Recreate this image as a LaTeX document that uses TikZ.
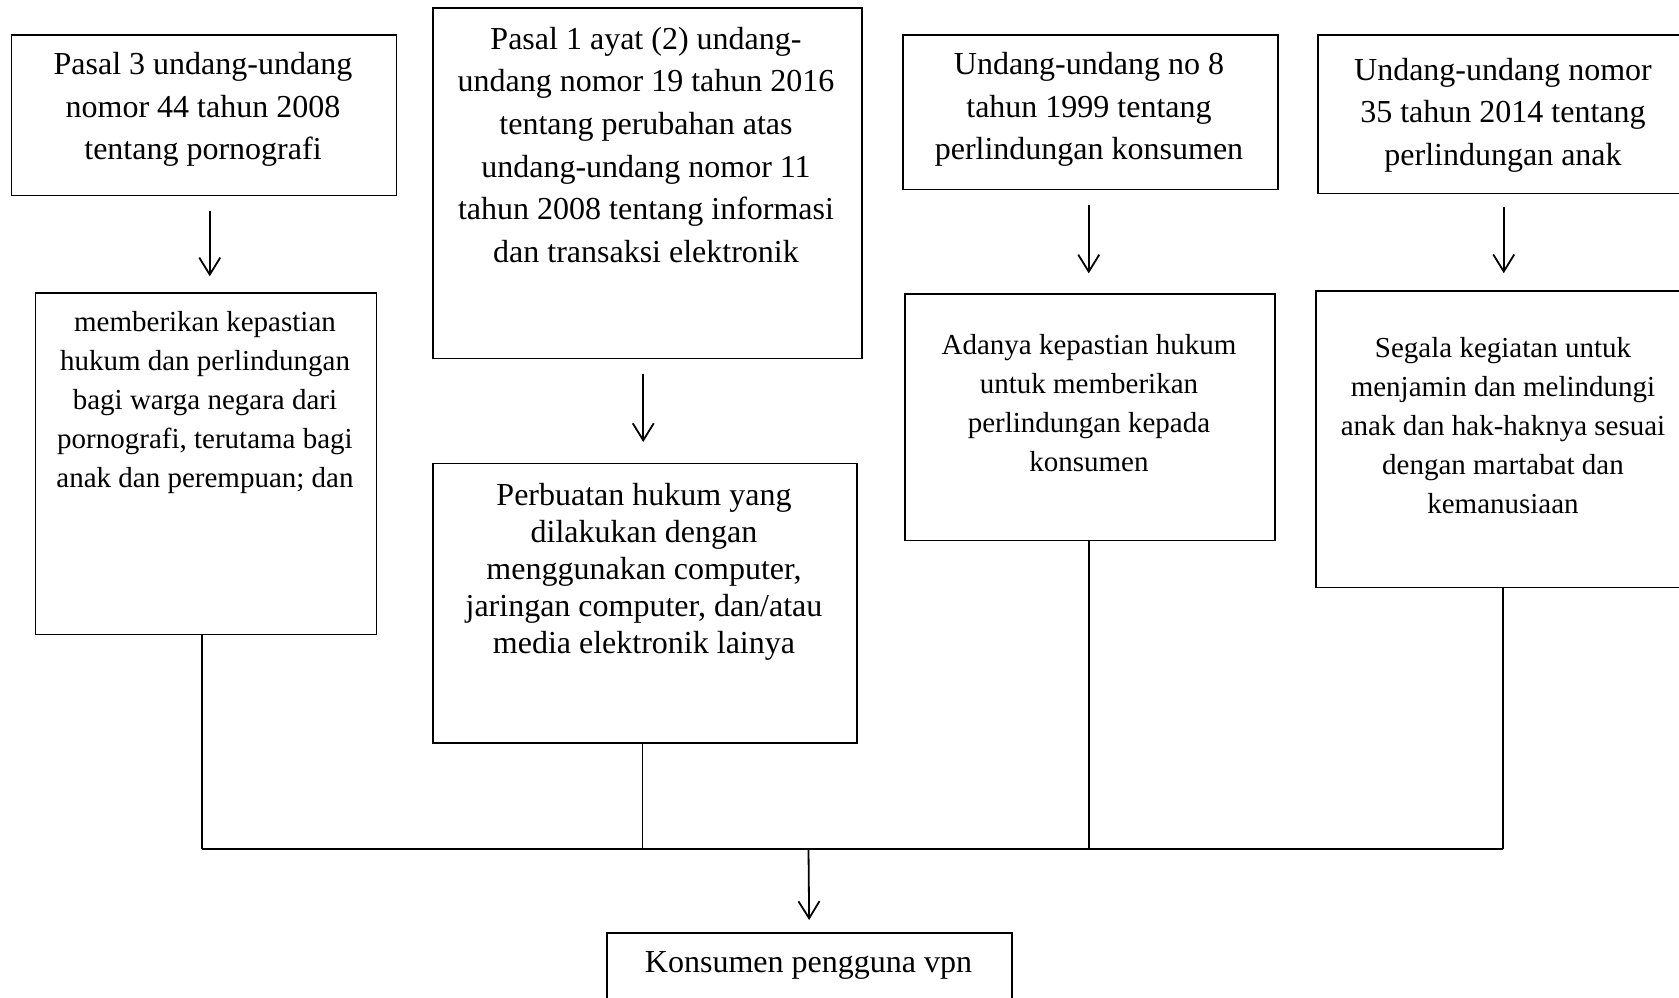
\documentclass[tikz,border=0pt]{standalone}
\usepackage{fontspec}
\setmainfont{Liberation Serif}
\usetikzlibrary{arrows.meta}
\begin{document}
\begin{tikzpicture}[x=1pt,y=-1pt,
  box/.style={draw, line width=1.5pt, inner sep=0pt, anchor=north west},
  txt/.style={inner sep=0pt, anchor=north, align=center},
  topf/.style={txt, font=\fontsize{32}{42.6}\selectfont},
  midf/.style={txt, font=\fontsize{32}{37}\selectfont},
  botf/.style={txt, font=\fontsize{29}{39}\selectfont},
  conn/.style={line width=1.6pt},
  arr/.style={line width=1.8pt, -{Straight Barb[length=17pt,width=21pt]}}]
\fill[white] (0,0) rectangle (1679,998);
\useasboundingbox (0,0) rectangle (1679,998);

% boxes
\node[box, minimum width=385, minimum height=160.6] (a1) at (10.5,34.3) {};
\node[box, minimum width=341, minimum height=341.6] (a2) at (34.5,292.3) {};
\node[box, minimum width=429, minimum height=350.1] (b1) at (432,7.5) {};
\node[box, minimum width=424, minimum height=279.4] (b2) at (432,462.6) {};
\node[box, minimum width=375, minimum height=154.2] (c1) at (902,34.3) {};
\node[box, minimum width=370, minimum height=246.3] (c2) at (904,293.4) {};
\node[box, minimum width=372, minimum height=158.4] (d1) at (1317,34.3) {};
\node[box, minimum width=376, minimum height=296.6] (d2) at (1315,290.2) {};
\node[box, minimum width=405, minimum height=90] (e) at (606,932) {};

% texts
\node[topf] (a1t) at (203,44.7) {\strut Pasal 3 undang-undang\\nomor 44 tahun 2008\\tentang pornografi};
\node[botf] (a2t) at (205,303.5) {\strut memberikan kepastian\\hukum dan perlindungan\\bagi warga negara dari\\pornografi, terutama bagi\\anak dan perempuan; dan};
\node[topf] (b1t) at (646,19.2) {\strut Pasal 1 ayat (2) undang-\\undang nomor 19 tahun 2016\\tentang perubahan atas\\undang-undang nomor 11\\tahun 2008 tentang informasi\\dan transaksi elektronik};
\node[midf] (b2t) at (644,479.2) {\strut Perbuatan hukum yang\\dilakukan dengan\\menggunakan computer,\\jaringan computer, dan/atau\\media elektronik lainya};
\node[topf] (c1t) at (1089,44.5) {\strut Undang-undang no 8\\tahun 1999 tentang\\perlindungan konsumen};
\node[botf] (c2t) at (1089,327.4) {\strut Adanya kepastian hukum\\untuk memberikan\\perlindungan kepada\\konsumen};
\node[topf] (d1t) at (1503,50.2) {\strut Undang-undang nomor\\35 tahun 2014 tentang\\perlindungan anak};
\node[botf] (d2t) at (1503,330.3) {\strut Segala kegiatan untuk\\menjamin dan melindungi\\anak dan hak-haknya sesuai\\dengan martabat dan\\kemanusiaan};
\node[topf] (et) at (808.5,942.5) {\strut Konsumen pengguna vpn};

% arrows between boxes
\draw[arr, shorten <=15pt, shorten >=16pt] ([xshift=6pt]a1.south) -- ([xshift=6pt]a1.south |- a2.north);
\draw[arr, shorten <=15pt, shorten >=20.6pt] ([xshift=-4pt]b1.south) -- ([xshift=-4pt]b1.south |- b2.north);
\draw[arr, shorten <=14.5pt, shorten >=20pt] ([xshift=-1.5pt]c1.south) -- ([xshift=-1.5pt]c1.south |- c2.north);
\draw[arr, shorten <=13pt, shorten >=17pt] (d1.south) -- (d1.south |- d2.north);

% bus
\coordinate (busA) at (202,849);
\coordinate (busB) at (642.5,849);
\coordinate (busC) at (1089,849);
\coordinate (busD) at (1503,849);
\coordinate (busE) at (808.5,849);
\draw[conn] (a2.south -| busA) -- (busA);
\draw[conn] (b2.south -| busB) -- (busB);
\draw[conn] (c2.south -| busC) -- (busC);
\draw[conn] (d2.south -| busD) -- (busD);
\draw[conn] (busA) -- (busD);
\draw[arr, shorten >=12pt] (busE) -- (e.north);
\end{tikzpicture}
\end{document}
